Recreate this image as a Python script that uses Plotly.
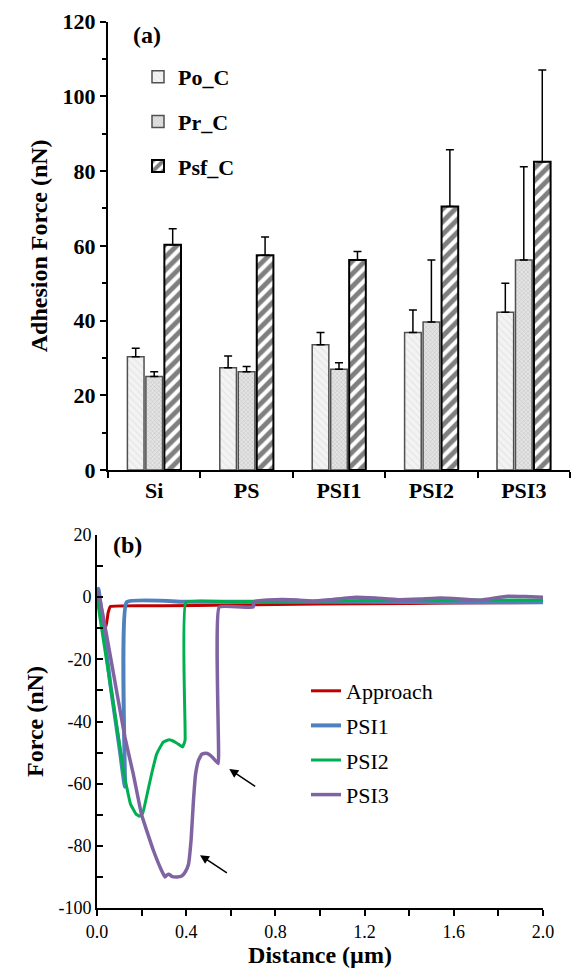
import plotly.graph_objects as go

W, H = 571, 973

# ---------------- (a) bar chart data ----------------
categories = ["Si", "PS", "PSI1", "PSI2", "PSI3"]
po_c = [30.3, 27.4, 33.5, 36.8, 42.2]
po_c_err = [2.3, 3.1, 3.3, 6.0, 7.8]
pr_c = [25.0, 26.3, 27.0, 39.6, 56.2]
pr_c_err = [1.3, 1.4, 1.7, 16.6, 25.0]
psf_c = [60.3, 57.5, 56.2, 70.5, 82.5]
psf_c_err = [4.3, 4.9, 2.3, 15.2, 24.6]

# ---------------- (b) force curves ----------------
approach_x = [0.0, 0.015, 0.03, 0.04, 0.05, 0.06, 0.3, 0.6, 1.0, 1.4, 1.8, 2.0]
approach_y = [-1.0, -5.0, -8.5, -9.6, -5.0, -3.0, -2.8, -2.5, -2.2, -2.0, -1.8, -1.7]

psi1_x = [0.0, 0.006, 0.06, 0.1, 0.125, 0.133, 0.4, 0.8, 1.2, 1.6, 2.0]
psi1_y = [0.0, 2.7, -28.0, -48.0, -61.0, -1.6, -1.5, -1.5, -1.5, -1.6, -1.6]

psi2_x = [0.0, 0.013, 0.1, 0.118, 0.15, 0.175, 0.19, 0.205, 0.222, 0.245, 0.268, 0.297,
          0.324, 0.357, 0.384, 0.395, 0.399, 0.6, 0.8, 1.0, 1.2, 1.4, 1.6, 1.8, 2.0]
psi2_y = [0.5, -6.5, -47.0, -55.7, -66.5, -69.8, -70.5, -69.5, -64.3, -56.8, -50.4, -46.6,
          -45.9, -46.9, -48.2, -46.0, -1.6, -1.5, -1.3, -1.2, -1.1, -1.0, -1.0, -0.9, -0.9]

psi3_x = [0.0, 0.006, 0.06, 0.125, 0.163, 0.2, 0.253, 0.29, 0.305, 0.315, 0.325, 0.335,
          0.36, 0.38, 0.395, 0.41, 0.422, 0.432, 0.442, 0.455, 0.47, 0.49, 0.51, 0.53,
          0.544, 0.548, 0.70, 0.705, 0.8, 0.9, 0.97, 1.05, 1.16, 1.25, 1.35, 1.45, 1.54,
          1.63, 1.72, 1.84, 1.92, 2.0]
psi3_y = [0.0, 1.5, -19.0, -45.0, -57.0, -70.0, -81.5, -88.0, -90.0, -89.3, -89.2, -89.8,
          -90.0, -89.7, -88.5, -86.0, -78.0, -66.0, -57.0, -52.5, -50.5, -50.2, -51.0, -52.5,
          -53.5, -3.2, -3.2, -1.4, -0.8, -0.9, -1.3, -0.8, 0.0, -0.3, -0.8, -0.6, -0.3,
          -0.6, -1.0, 0.3, 0.2, 0.0]

# tick labels of panel (b) (hyphen-minus as in the original)
force_tickvals = [-100, -80, -60, -40, -20, 0, 20]
force_ticktext = ["-100", "-80", "-60", "-40", "-20", "0", "20"]

# arrows (tail -> head) in data units of panel (b)
arrow_tail_x = [0.716, 0.589]
arrow_tail_y = [-61.2, -89.0]
arrow_head_x = [0.593, 0.462]
arrow_head_y = [-55.3, -83.0]

SERIF = "Liberation Serif, Times New Roman, serif"


def px_x(p):
    return p / W


def px_y(p):
    return 1 - p / H


fig = go.Figure()

err_style = dict(type="data", symmetric=False, color="black", thickness=1.5, width=4)

fig.add_trace(go.Bar(
    name="Po_C", x=categories, y=po_c,
    error_y=dict(array=po_c_err, arrayminus=[0] * 5, **err_style),
    marker=dict(color="#f3f3f3", line=dict(color="#505050", width=1.5),
                pattern=dict(shape="\\", fgcolor="#cfcfcf", size=5, solidity=0.2, fillmode="overlay")),
    xaxis="x", yaxis="y", legend="legend", legendgroup="a1",
))
fig.add_trace(go.Bar(
    name="Pr_C", x=categories, y=pr_c,
    error_y=dict(array=pr_c_err, arrayminus=[0] * 5, **err_style),
    marker=dict(color="#e4e4e4", line=dict(color="#505050", width=1.5),
                pattern=dict(shape="x", fgcolor="#9a9a9a", size=3, solidity=0.3, fillmode="overlay")),
    xaxis="x", yaxis="y", legend="legend", legendgroup="a2",
))
fig.add_trace(go.Bar(
    name="Psf_C", x=categories, y=psf_c,
    error_y=dict(array=psf_c_err, arrayminus=[0] * 5, **err_style),
    marker=dict(color="white", line=dict(color="black", width=2),
                pattern=dict(shape="/", fgcolor="black", size=9, solidity=0.55, fillmode="overlay")),
    xaxis="x", yaxis="y", legend="legend", legendgroup="a3",
))

line_specs = [
    ("Approach", approach_x, approach_y, "#C00000", 3),
    ("PSI1", psi1_x, psi1_y, "#4F81BD", 4),
    ("PSI2", psi2_x, psi2_y, "#00B050", 3),
    ("PSI3", psi3_x, psi3_y, "#8064A2", 3.5),
]
for i, (nm, xs, ys, col, wd) in enumerate(line_specs):
    fig.add_trace(go.Scatter(
        name=nm, x=xs, y=ys, mode="lines",
        line=dict(color=col, width=wd, shape="spline", smoothing=0.3),
        xaxis="x2", yaxis="y2", legend="legend2", legendgroup="b%d" % i,
    ))

ann = []
for tx, ty, hx, hy in zip(arrow_tail_x, arrow_tail_y, arrow_head_x, arrow_head_y):
    ann.append(dict(x=hx, y=hy, ax=tx, ay=ty, xref="x2", yref="y2", axref="x2", ayref="y2",
                    showarrow=True, arrowhead=2, arrowsize=1.2, arrowwidth=1.5,
                    arrowcolor="black", text=""))
ann.append(dict(text="<b>(a)</b>", x=px_x(147), y=px_y(35), xref="paper", yref="paper",
                xanchor="center", yanchor="middle",
                showarrow=False, font=dict(family=SERIF, size=24, color="black")))
ann.append(dict(text="<b>(b)</b>", x=px_x(127), y=px_y(545), xref="paper", yref="paper",
                xanchor="center", yanchor="middle",
                showarrow=False, font=dict(family=SERIF, size=24, color="black")))

fig.update_layout(
    width=W, height=H,
    margin=dict(l=0, r=0, t=0, b=0, autoexpand=False),
    paper_bgcolor="white", plot_bgcolor="white",
    barmode="group", bargap=0.4, bargroupgap=0.1,
    font=dict(family=SERIF, color="black"),
    xaxis=dict(domain=[px_x(108), px_x(570)], anchor="y", type="category", automargin=False,
               range=[-0.5, 4.5], tickson="boundaries", ticks="outside", ticklen=6,
               tickwidth=1.5, tickcolor="black", showline=True, linewidth=2, linecolor="black",
               showgrid=False, tickfont=dict(family=SERIF, size=22, weight="bold")),
    yaxis=dict(domain=[px_y(470), px_y(21.7)], anchor="x", range=[0, 120], dtick=20,
               automargin=False,
               ticks="outside", ticklen=6, tickwidth=1.5, tickcolor="black",
               minor=dict(dtick=10, ticks="outside", ticklen=4, tickwidth=1.5, tickcolor="black"),
               showline=True, linewidth=2, linecolor="black", showgrid=False, zeroline=False,
               tickfont=dict(family=SERIF, size=22, weight="bold"),
               title=dict(text="<b>Adhesion Force (nN)</b>", standoff=8,
                          font=dict(family=SERIF, size=24))),
    xaxis2=dict(domain=[px_x(97), px_x(543)], anchor="y2", range=[0, 2], dtick=0.4,
                automargin=False,
                tickformat=".1f", ticks="outside", ticklen=6, tickwidth=1.5, tickcolor="black",
                minor=dict(dtick=0.2, ticks="outside", ticklen=6, tickwidth=1.5, tickcolor="black"),
                showline=True, linewidth=2, linecolor="black", showgrid=False, zeroline=False,
                tickfont=dict(family=SERIF, size=18),
                title=dict(text="<b>Distance (µm)</b>", standoff=6,
                           font=dict(family=SERIF, size=24))),
    yaxis2=dict(domain=[px_y(908), px_y(535)], anchor="x2", range=[-100, 20],
                automargin=False,
                tickmode="array", tickvals=force_tickvals, ticktext=force_ticktext,
                ticks="inside", ticklen=6, tickwidth=1.5, tickcolor="black",
                minor=dict(dtick=10, ticks="inside", ticklen=6, tickwidth=1.5, tickcolor="black"),
                showline=True, linewidth=2, linecolor="black", showgrid=False, zeroline=False,
                tickfont=dict(family=SERIF, size=18),
                title=dict(text="<b>Force (nN)</b>", standoff=8,
                           font=dict(family=SERIF, size=24))),
    legend=dict(x=px_x(138), y=px_y(56), xanchor="left", yanchor="top",
                bgcolor="rgba(0,0,0,0)", traceorder="grouped", tracegroupgap=13,
                font=dict(family=SERIF, size=22, weight="bold"), itemwidth=30),
    legend2=dict(x=px_x(306), y=px_y(670), xanchor="left", yanchor="top",
                 bgcolor="rgba(0,0,0,0)", traceorder="grouped", tracegroupgap=3,
                 font=dict(family=SERIF, size=22), itemwidth=30),
    annotations=ann,
    showlegend=True,
)

fig.write_html("out.html")
